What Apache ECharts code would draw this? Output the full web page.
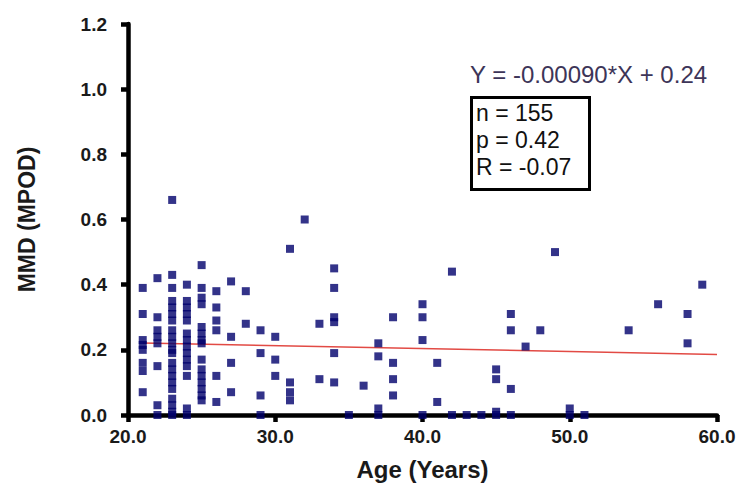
<!DOCTYPE html>
<html>
<head>
<meta charset="utf-8">
<script src="https://cdn.jsdelivr.net/npm/echarts@6/dist/echarts.min.js"></script>
<style>
html,body{margin:0;padding:0;background:#fff;}
#chart{width:742px;height:495px;}
</style>
</head>
<body>
<div id="chart"></div>
<script>
// Data (age in years, MMD in MPOD)
const ages = [
  21,21,21,21,21,21,21,21,
  22,22,22,22,22,22,22,22,
  23,23,23,23,23,23,23,23,23,23,23,23,23,23,23,23,23,23,23,23,23,
  24,24,24,24,24,24,24,24,24,24,24,24,24,24,
  25,25,25,25,25,25,25,25,25,25,25,25,25,25,25,
  26,26,26,26,26,26,
  27,27,27,27,
  28,28,
  29,29,29,29,
  30,30,30,
  31,31,31,31,
  32,
  33,33,
  34,34,34,34,34,34,
  35,
  36,
  37,37,37,37,
  38,38,38,38,
  40,40,40,40,
  41,41,
  42,42,
  43,
  44,
  45,45,45,45,
  46,46,46,46,
  47,
  48,
  49,
  50,50,
  51,
  54,
  56,
  58,58,
  59
];
const mmd = [
  0.39,0.31,0.23,0.215,0.20,0.16,0.135,0.07,
  0.42,0.30,0.26,0.24,0.22,0.15,0.03,0.0,
  0.66,0.43,0.39,0.35,0.33,0.31,0.29,0.26,0.24,0.22,0.20,0.19,0.16,0.14,0.12,0.10,0.08,0.05,0.03,0.01,0.0,
  0.40,0.35,0.33,0.31,0.29,0.25,0.23,0.21,0.19,0.17,0.15,0.12,0.02,0.0,
  0.46,0.39,0.36,0.34,0.27,0.25,0.23,0.22,0.17,0.14,0.12,0.10,0.08,0.06,0.045,
  0.38,0.33,0.29,0.26,0.12,0.04,
  0.41,0.24,0.16,0.07,
  0.38,0.28,
  0.26,0.19,0.06,0.0,
  0.24,0.17,0.12,
  0.51,0.10,0.07,0.045,
  0.60,
  0.28,0.11,
  0.45,0.39,0.30,0.285,0.19,0.10,
  0.0,
  0.09,
  0.22,0.18,0.02,0.0,
  0.30,0.16,0.11,0.06,
  0.34,0.30,0.23,0.0,
  0.16,0.04,
  0.44,0.0,
  0.0,
  0.0,
  0.14,0.11,0.01,0.0,
  0.31,0.26,0.08,0.0,
  0.21,
  0.26,
  0.50,
  0.02,0.0,
  0.0,
  0.26,
  0.34,
  0.31,0.22,
  0.40
];
// Regression line endpoints as drawn
const regX = [21, 60];
const regY = [0.221, 0.186];
// Axis ticks
const xTicks = [20, 30, 40, 50, 60];
const yTicks = [0, 0.2, 0.4, 0.6, 0.8, 1.0, 1.2];
// Annotation texts
const equationText = 'Y = -0.00090*X + 0.24';
const statsLines = ['n = 155', 'p = 0.42', 'R = -0.07'];
const xTitle = 'Age (Years)';
const yTitle = 'MMD (MPOD)';

const points = ages.map((a, i) => [a, mmd[i]]);
const regLine = regX.map((x, i) => [x, regY[i]]);

const chart = echarts.init(document.getElementById('chart'), null, {renderer: 'svg'});
const FONT = '"Liberation Sans", Arial, sans-serif';
chart.setOption({
  animation: false,
  backgroundColor: '#ffffff',
  grid: {left: 128, right: 25, top: 24, bottom: 80, containLabel: false},
  xAxis: {
    type: 'value', min: xTicks[0], max: xTicks[xTicks.length - 1], interval: 10,
    name: xTitle, nameLocation: 'middle', nameGap: 42,
    nameTextStyle: {fontFamily: FONT, fontWeight: 'bold', fontSize: 24, color: '#1a1a1a'},
    axisLine: {show: true, onZero: false, lineStyle: {color: '#000', width: 4.5}},
    axisTick: {show: true, inside: false, length: 7, lineStyle: {color: '#000', width: 4.5}},
    axisLabel: {fontFamily: FONT, fontWeight: 'bold', fontSize: 19, color: '#1a1a1a', margin: 12,
      formatter: v => v.toFixed(1)},
    splitLine: {show: false}
  },
  yAxis: {
    type: 'value', min: yTicks[0], max: yTicks[yTicks.length - 1], interval: 0.2,
    name: yTitle, nameLocation: 'middle', nameGap: 90, nameRotate: 90,
    nameTextStyle: {fontFamily: FONT, fontWeight: 'bold', fontSize: 23, color: '#1a1a1a'},
    axisLine: {show: true, onZero: false, lineStyle: {color: '#000', width: 4.5}},
    axisTick: {show: true, inside: false, length: 7, lineStyle: {color: '#000', width: 4.5}},
    axisLabel: {fontFamily: FONT, fontWeight: 'bold', fontSize: 19, color: '#1a1a1a', margin: 21,
      formatter: v => v.toFixed(1)},
    splitLine: {show: false}
  },
  series: [
    {
      type: 'line', data: regLine, symbol: 'none', z: 1,
      lineStyle: {color: '#e24a44', width: 1.5}
    },
    {
      type: 'scatter', data: points, symbol: 'rect', symbolSize: 8, z: 2,
      itemStyle: {color: '#00006c'}
    }
  ],
  graphic: [
    {
      type: 'text', left: 470, top: 62,
      style: {text: equationText, fontFamily: FONT, fontSize: 24, fill: '#3d3558'}
    },
    {
      type: 'rect', left: 470, top: 96,
      shape: {width: 118, height: 92},
      style: {fill: '#fff', stroke: '#000', lineWidth: 3}
    },
    {
      type: 'text', left: 476, top: 99,
      style: {text: statsLines.join('\n'), fontFamily: FONT, fontSize: 23, lineHeight: 27, fill: '#111'}
    }
  ]
});
</script>
</body>
</html>
